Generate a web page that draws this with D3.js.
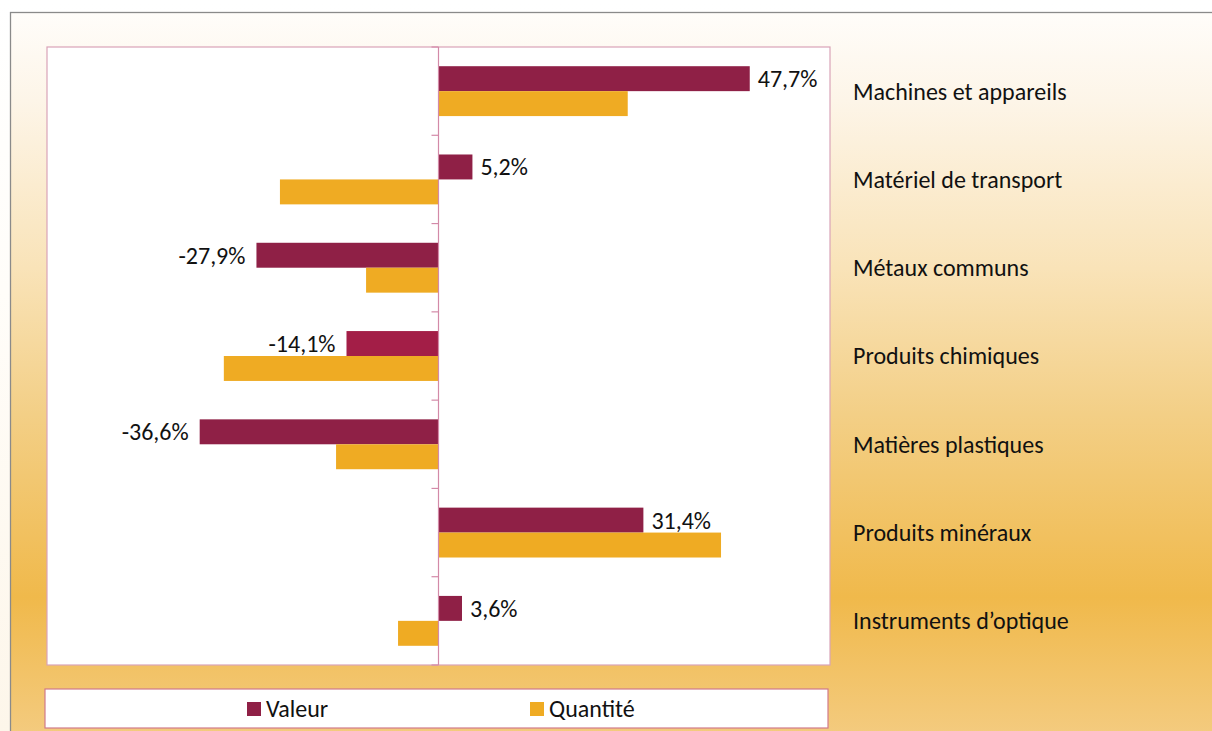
<!DOCTYPE html>
<html><head><meta charset="utf-8">
<script src="https://cdn.jsdelivr.net/npm/d3@7"></script>
<style>
html,body{margin:0;padding:0;background:linear-gradient(#ffffff 0%, #fffdf9 40%, #fdf6ea 100%);width:1212px;height:731px;overflow:hidden}
svg{display:block}
text{font-family:Carlito, Lato, "Open Sans", sans-serif;fill:#111}
</style></head>
<body>
<script>
const categories = ["Machines et appareils","Matériel de transport","Métaux communs","Produits chimiques","Matières plastiques","Produits minéraux","Instruments d’optique"];
const valeur = [47.7, 5.2, -27.9, -14.1, -36.6, 31.4, 3.6];
const quantite = [29.0, -24.3, -11.1, -32.9, -15.7, 43.3, -6.2];
const valeurLabels = ["47,7%","5,2%","-27,9%","-14,1%","-36,6%","31,4%","3,6%"];
const seriesNames = ["Valeur","Quantité"];
const xDomain = [-60, 60];

const W = 1212, H = 731;
const svg = d3.select("body").append("svg").attr("width", W).attr("height", H);
const defs = svg.append("defs");
const grad = defs.append("linearGradient").attr("id","bg").attr("x1",0).attr("y1",0).attr("x2",0).attr("y2",1);
[[0,"#fffdfa"],[0.12,"#fdf5e8"],[0.35,"#f9e3b8"],[0.55,"#f3cf86"],[0.8,"#f0b94b"],[1,"#f4cc82"]].forEach(([o,c])=>grad.append("stop").attr("offset",o).attr("stop-color",c));

svg.append("rect").attr("x",10.5).attr("y",12.5).attr("width",W).attr("height",H)
  .attr("fill","url(#bg)").attr("stroke","#8a8a8a").attr("stroke-width",1.3);

const plot = {x0:47, x1:830, y0:47, y1:665};
const x = d3.scaleLinear().domain(xDomain).range([plot.x0, plot.x1]);
const y = d3.scaleBand().domain(categories).range([plot.y0, plot.y1]).paddingInner(0).paddingOuter(0);
const inner = d3.scaleBand().domain(seriesNames).range([0, y.bandwidth()]).paddingOuter(0.77).paddingInner(0);

svg.append("rect").attr("x",plot.x0).attr("y",plot.y0).attr("width",plot.x1-plot.x0).attr("height",plot.y1-plot.y0)
  .attr("fill","#ffffff").attr("stroke","#d9a3b8").attr("stroke-width",1.2);

const colV = "#8f2046", colVAlt = "#a31e47", colQ = "#efab23";
const fs = "24px";

const g = svg.append("g");
categories.forEach((c,i)=>{
  const v = valeur[i], q = quantite[i];
  g.append("rect").attr("x",x(Math.min(0,v))).attr("y",y(c)+inner("Valeur"))
    .attr("width",Math.abs(x(v)-x(0))).attr("height",inner.bandwidth())
    .attr("fill", c==="Produits chimiques" ? colVAlt : colV);
  g.append("rect").attr("x",x(Math.min(0,q))).attr("y",y(c)+inner("Quantité"))
    .attr("width",Math.abs(x(q)-x(0))).attr("height",inner.bandwidth())
    .attr("fill", colQ);
  const ly = y(c)+inner("Valeur")+inner.bandwidth()/2;
  g.append("text").attr("x", v>=0 ? x(v)+8 : x(v)-11).attr("y",ly).attr("dy","0.35em")
    .attr("text-anchor", v>=0 ? "start":"end").style("font-size",fs).text(valeurLabels[i]);
});

// zero axis with ticks at category boundaries
const ag = svg.append("g").attr("transform",`translate(${x(0)},0)`);
ag.append("line").attr("x1",0).attr("x2",0).attr("y1",plot.y0).attr("y2",plot.y1).attr("stroke","#d38aa8").attr("stroke-width",1.2);
const bounds = categories.map(c=>y(c)).concat([plot.y1]);
ag.selectAll("line.tk").data(bounds).enter().append("line").attr("class","tk")
  .attr("x1",-7).attr("x2",0).attr("y1",d=>d).attr("y2",d=>d).attr("stroke","#d38aa8").attr("stroke-width",1.2);

// category labels on right
categories.forEach(c=>{
  svg.append("text").attr("x",853).attr("y",y(c)+y.bandwidth()/2).attr("dy","0.35em")
    .style("font-size",fs).text(c);
});

// legend
svg.append("rect").attr("x",45).attr("y",689).attr("width",783).attr("height",39)
  .attr("fill","#ffffff").attr("stroke","#d07a8a").attr("stroke-width",1.2);
const leg = [{n:seriesNames[0],c:colV,x:247},{n:seriesNames[1],c:colQ,x:530}];
leg.forEach(l=>{
  svg.append("rect").attr("x",l.x).attr("y",702).attr("width",14).attr("height",14).attr("fill",l.c);
  svg.append("text").attr("x",l.x+19).attr("y",709).attr("dy","0.35em").style("font-size",fs).text(l.n);
});
</script>
</body></html>
